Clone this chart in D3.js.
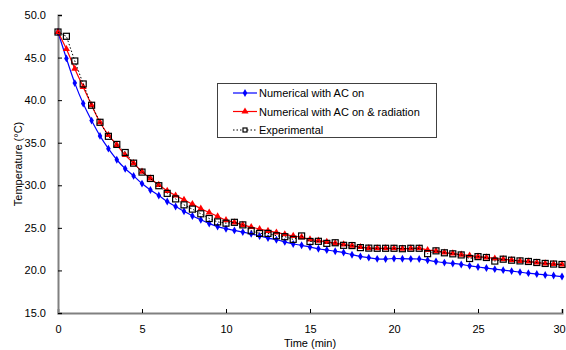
<!DOCTYPE html>
<html>
<head>
<meta charset="utf-8">
<script src="https://cdn.jsdelivr.net/npm/d3@7"></script>
<style>
  body { margin: 0; background: #fff; }
  text { font-family: Arial, "Liberation Sans", sans-serif; fill: #000; }
</style>
</head>
<body>
<div id="chart"></div>
<script>
const WIDTH = 566;
const HEIGHT = 350;

// time axis, one reading every half minute
var TIMES = d3.range(0, 30.001, 0.5);

var NUMERICAL_AC = [48.0, 44.9, 42.0, 39.6, 37.6, 35.8, 34.3, 33.0, 31.95, 31.1,
  30.2, 29.45, 28.8, 28.1, 27.5, 26.95, 26.4, 25.95, 25.5, 25.15,
  24.9, 24.7, 24.5, 24.3, 24.05, 23.8, 23.6, 23.35, 23.1, 22.95,
  22.75, 22.55, 22.4, 22.25, 22.1, 21.85, 21.65, 21.5, 21.36, 21.34,
  21.4, 21.38, 21.36, 21.34, 21.2, 21.05, 20.92, 20.82, 20.7, 20.54,
  20.4, 20.28, 20.15, 20.03, 19.92, 19.8, 19.68, 19.58, 19.47, 19.4, 19.28];

var NUMERICAL_RAD = [48.0, 46.0, 43.7, 41.55, 39.4, 37.4, 35.9, 34.75, 33.55, 32.6,
  31.6, 30.8, 30.05, 29.35, 28.8, 28.3, 27.8, 27.25, 26.8, 26.35,
  25.9, 25.65, 25.35, 25.1, 24.85, 24.65, 24.45, 24.25, 24.05, 23.9,
  23.65, 23.5, 23.35, 23.2, 23.05, 22.9, 22.75, 22.62, 22.6, 22.6,
  22.6, 22.55, 22.58, 22.6, 22.4, 22.3, 22.1, 22.0, 21.85, 21.75,
  21.62, 21.52, 21.4, 21.32, 21.2, 21.12, 21.05, 20.93, 20.82, 20.75, 20.7];

var EXPERIMENTAL = [48.0, 47.5, 44.6, 41.9, 39.4, 37.4, 35.75, 34.8, 33.85, 32.6,
  31.55, 30.8, 29.95, 29.05, 28.4, 27.7, 27.2, 26.65, 26.1, 25.7,
  25.55, 25.65, 25.35, 24.65, 24.35, 24.35, 24.07, 23.96, 23.65, 24.05,
  23.4, 23.42, 23.18, 23.25, 22.95, 22.92, 22.68, 22.62, 22.6, 22.6,
  22.6, 22.55, 22.6, 22.6, 21.97, 22.3, 22.07, 21.95, 21.82, 21.4,
  21.62, 21.52, 21.1, 21.32, 21.2, 21.12, 21.05, 20.93, 20.82, 20.75, 20.7];

var X_TICKS = [0, 5, 10, 15, 20, 25, 30];
var Y_TICKS = [15, 20, 25, 30, 35, 40, 45, 50];

var SERIES = [
  { name: "Numerical with AC on", values: NUMERICAL_AC, color: "#0000ff", kind: "diamond" },
  { name: "Numerical with AC on & radiation", values: NUMERICAL_RAD, color: "#ff0000", kind: "triangle" },
  { name: "Experimental", values: EXPERIMENTAL, color: "#000000", kind: "square" }
];

//Scales
var xScale = d3.scaleLinear().domain([0, 30]).range([58, 562]);
var yScale = d3.scaleLinear().domain([15, 50]).range([313, 15]);

var svg = d3.select("#chart").append("svg")
  .attr("width", WIDTH)
  .attr("height", HEIGHT);

//Axes with inside ticks
var xAxis = d3.axisBottom(xScale).tickValues(X_TICKS).tickSize(-4).tickPadding(12);
var yAxis = d3.axisLeft(yScale).tickValues(Y_TICKS).tickSize(-4).tickPadding(12)
  .tickFormat(d3.format(".1f"));

var gx = svg.append("g")
  .attr("transform", "translate(0," + yScale(15) + ")")
  .call(xAxis);
var gy = svg.append("g")
  .attr("transform", "translate(" + xScale(0) + ",0)")
  .call(yAxis);

[gx, gy].forEach(function (g) {
  g.select(".domain").attr("stroke", "#808080").attr("stroke-width", 2);
  g.selectAll(".tick line").attr("stroke", "#000").attr("stroke-width", 1);
  g.selectAll(".tick text").style("font-size", "11px").attr("fill", "#000")
    .style("font-family", "Arial, 'Liberation Sans', sans-serif");
});
// last label sits on the window edge, nudge it in
gx.selectAll(".tick text").filter(function (d) { return d === 30; }).attr("dx", -3);

//Axis titles
svg.append("text")
  .attr("x", xScale(15))
  .attr("y", 347)
  .attr("text-anchor", "middle")
  .style("font-size", "11px")
  .text("Time (min)");

svg.append("text")
  .attr("transform", "translate(22," + yScale(32.5) + ") rotate(-90)")
  .attr("text-anchor", "middle")
  .style("font-size", "11px")
  .text("Temperature (°C)");

function marker(g, kind, color, half) {
  if (kind === "square") {
    g.append("rect")
      .attr("x", -half).attr("y", -half).attr("width", half * 2).attr("height", half * 2)
      .attr("fill", "none").attr("stroke", "#000").attr("stroke-width", 1.2);
  } else {
    var type = kind === "diamond" ? d3.symbolDiamond : d3.symbolTriangle;
    var size = kind === "diamond" ? 18 : 22;
    g.append("path")
      .attr("d", d3.symbol().type(type).size(size)())
      .attr("fill", color);
  }
}

//Lines
SERIES.forEach(function (s) {
  var pts = TIMES.map(function (t, i) { return [t, s.values[i]]; });
  var line = d3.line()
    .x(function (d) { return xScale(d[0]); })
    .y(function (d) { return yScale(d[1]); })
    .curve(s.kind === "square" ? d3.curveLinear : d3.curveCatmullRom);

  svg.append("path")
    .datum(pts)
    .attr("d", line)
    .attr("fill", "none")
    .attr("stroke", s.color)
    .attr("stroke-width", s.kind === "square" ? 1 : 1.2)
    .attr("stroke-dasharray", s.kind === "square" ? "1.5,2" : null);

  svg.append("g").selectAll("g")
    .data(pts)
    .enter()
    .append("g")
    .attr("transform", function (d) { return "translate(" + xScale(d[0]) + "," + yScale(d[1]) + ")"; })
    .each(function () { marker(d3.select(this), s.kind, s.color, 3); });
});

//Legend
var legend = svg.append("g");
legend.append("rect")
  .attr("x", 217.5).attr("y", 83.5).attr("width", 219).attr("height", 54)
  .attr("fill", "#fff").attr("stroke", "#404040").attr("stroke-width", 1);

SERIES.forEach(function (s, i) {
  var y = 93 + i * 18.5;
  var row = legend.append("g");
  row.append("line")
    .attr("x1", 233).attr("x2", 257).attr("y1", y).attr("y2", y)
    .attr("stroke", s.color)
    .attr("stroke-width", s.kind === "square" ? 1 : 1.2)
    .attr("stroke-dasharray", s.kind === "square" ? "1.5,2" : null);
  var m = row.append("g").attr("transform", "translate(245," + y + ")");
  marker(m, s.kind, s.color, 2);
  if (s.kind === "square") {
    m.select("rect").attr("fill", "#fff");
  }
  row.append("text")
    .attr("x", 259).attr("y", y + 4)
    .style("font-size", "11px")
    .text(s.name);
});
</script>
</body>
</html>
